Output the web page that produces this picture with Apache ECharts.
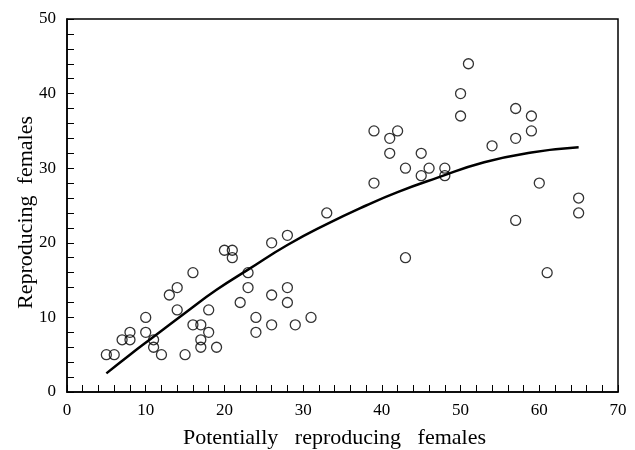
<!DOCTYPE html>
<html>
<head>
<meta charset="utf-8">
<script src="https://cdn.jsdelivr.net/npm/echarts@6/dist/echarts.min.js"></script>
<style>
    html, body { margin: 0; padding: 0; background: #fff; }
    #scatter { width: 635px; height: 450px; }
</style>
</head>
<body>
<div id="scatter"></div>
<script>
// observed points
var potentialFemales = [5, 6, 7, 8, 8, 10, 10, 11, 11, 12, 13, 14, 14, 15, 16, 16, 17, 17, 17, 18, 18, 19,
    20, 21, 21, 22, 23, 23, 24, 24, 26, 26, 26, 28, 28, 28, 29, 31, 33, 39, 39, 41, 41, 42, 43, 43,
    45, 45, 46, 48, 48, 50, 50, 51, 54, 57, 57, 57, 59, 59, 60, 61, 65, 65];
var reproFemales = [5, 5, 7, 8, 7, 10, 8, 7, 6, 5, 13, 14, 11, 5, 16, 9, 9, 7, 6, 11, 8, 6,
    19, 19, 18, 12, 16, 14, 10, 8, 20, 13, 9, 21, 14, 12, 9, 10, 24, 35, 28, 34, 32, 35, 30, 18,
    32, 29, 30, 30, 29, 40, 37, 44, 33, 38, 34, 23, 37, 35, 28, 16, 26, 24];
// fitted curve
var curveX = [5, 8, 11, 15, 19, 23, 28, 33, 38, 42, 47, 53, 59, 65];
var curveY = [2.5, 5.0, 7.4, 10.6, 13.7, 16.4, 19.7, 22.5, 25.0, 26.8, 28.7, 30.8, 32.1, 32.8];
var xTicks = [0, 10, 20, 30, 40, 50, 60, 70];
var yTicks = [0, 10, 20, 30, 40, 50];

(function() {
    var myChart = echarts.init(document.querySelector("#scatter"));
    var serif = "'Liberation Serif', 'Times New Roman', serif";

    var points = potentialFemales.map(function(x, i) { return [x, reproFemales[i]]; });
    var curve = curveX.map(function(x, i) { return [x, curveY[i]]; });

    var axisCommon = function(ticks, name) {
        return {
            type: 'value',
            min: ticks[0],
            max: ticks[ticks.length - 1],
            interval: ticks[1] - ticks[0],
            name: name,
            nameLocation: 'middle',
            nameMoveOverlap: false,
            nameTextStyle: { color: '#000', fontSize: 22, fontFamily: serif },
            axisLine: { lineStyle: { color: '#000', width: 1.5 } },
            // 刻度朝内
            axisTick: { inside: true, length: 7, lineStyle: { color: '#000', width: 1 } },
            minorTick: { show: true, splitNumber: 5, length: 7, lineStyle: { color: '#000', width: 1 } },
            axisLabel: { color: '#000', fontSize: 17, fontFamily: serif },
            splitLine: { show: false }
        };
    };

    var xAxis = axisCommon(xTicks, 'Potentially   reproducing   females');
    xAxis.nameGap = 35;
    xAxis.nameTextStyle.padding = [0, 16, 0, 0];
    xAxis.axisLabel.margin = 10;
    var yAxis = axisCommon(yTicks, 'Reproducing  females');
    yAxis.nameGap = 30;
    yAxis.nameTextStyle.padding = [0, 14, 0, 0];
    yAxis.axisLabel.margin = 11;

    var option = {
        animation: false,
        grid: {
            left: 67,
            right: 17,
            top: 19,
            bottom: 58,
            outerBoundsMode: 'none',
            show: true,
            borderColor: '#000',
            borderWidth: 1.5,
            backgroundColor: 'transparent'
        },
        xAxis: xAxis,
        yAxis: yAxis,
        series: [{
                type: 'scatter',
                symbol: 'circle',
                symbolSize: 10,
                itemStyle: { color: 'rgba(0,0,0,0)', borderColor: '#000', borderWidth: 1.3 },
                data: points
            },
            {
                type: 'line',
                smooth: true,
                showSymbol: false,
                lineStyle: { color: '#000', width: 2.5 },
                data: curve
            }
        ]
    };
    myChart.setOption(option);
    window.addEventListener("resize", function() {
        myChart.resize();
    });
})();
</script>
</body>
</html>
